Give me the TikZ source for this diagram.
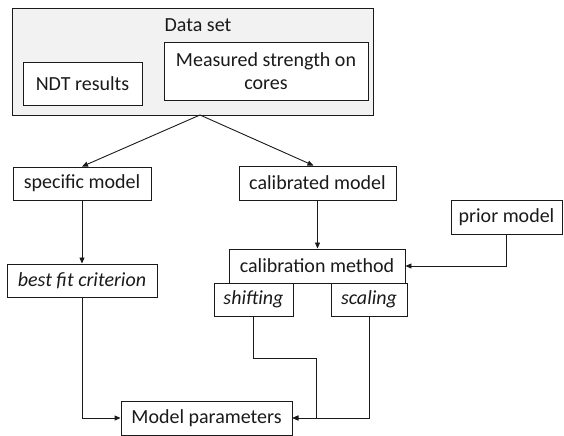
\documentclass[tikz,border=0pt]{standalone}
\usepackage{fontspec}
\setmainfont{Carlito}
\usetikzlibrary{arrows.meta}
\definecolor{boxfill}{HTML}{F2F2F2}
\definecolor{ink}{HTML}{1A1A1A}
\tikzset{
  box/.style={draw=ink, line width=0.9bp, inner sep=0pt, text=ink, font=\fontsize{20bp}{23bp}\selectfont, align=center},
  conn/.style={draw=ink, line width=0.9bp},
  arr/.style={conn, -{Triangle[length=6bp,width=5bp]}}
}
\begin{document}
\begin{tikzpicture}[x=1bp,y=-1bp]
\useasboundingbox (0,0) rectangle (564,436);
\node[box, fill=boxfill, minimum width=361bp, minimum height=107bp] (ds) at (192.5,61.5) {};
\node[text=ink, font=\fontsize{20bp}{23bp}\selectfont, inner sep=0pt] (dslabel) at (198,25) {Data set};
\node[box, fill=white, minimum width=119bp, minimum height=43bp] (ndt) at (82.5,83.5) {NDT results};
\node[box, fill=white, minimum width=204bp, minimum height=58bp] (meas) at (266,71) {Measured strength on\\cores};
\node[box, minimum width=138bp, minimum height=33bp] (spec) at (82,183.5) {specific model};
\node[box, minimum width=157bp, minimum height=34bp] (calib) at (317.5,183) {calibrated model};
\node[box, minimum width=111bp, minimum height=34bp] (prior) at (506.5,217) {prior model};
\node[box, minimum width=150bp, minimum height=33bp] (best) at (82,280.5) {\itshape best fit criterion};
\node[box, minimum width=176bp, minimum height=34bp] (cmeth) at (317,266) {calibration method};
\node[box, minimum width=79bp, minimum height=33bp] (shift) at (253.5,299.5) {\itshape shifting};
\node[box, minimum width=76bp, minimum height=33bp] (scal) at (369,299.5) {\itshape scaling};
\node[box, minimum width=171bp, minimum height=34bp] (mp) at (206.5,418) {Model parameters};
\coordinate (dsb) at (200,115);
\coordinate (j) at (316,358);
\draw[arr] (dsb) -- (spec.north);
\draw[arr] (dsb) -- ([xshift=-4bp]calib.north);
\draw[arr] (spec.south) -- (best.north);
\draw[arr] (calib.south) -- (calib.south |- cmeth.north);
\draw[arr] (prior.south) |- (cmeth.east);
\draw[arr] (best.south) |- (mp.west);
\draw[arr] (shift.south) |- (j) |- (mp.east);
\draw[arr] (scal.south) |- (mp.east);
\end{tikzpicture}
\end{document}
